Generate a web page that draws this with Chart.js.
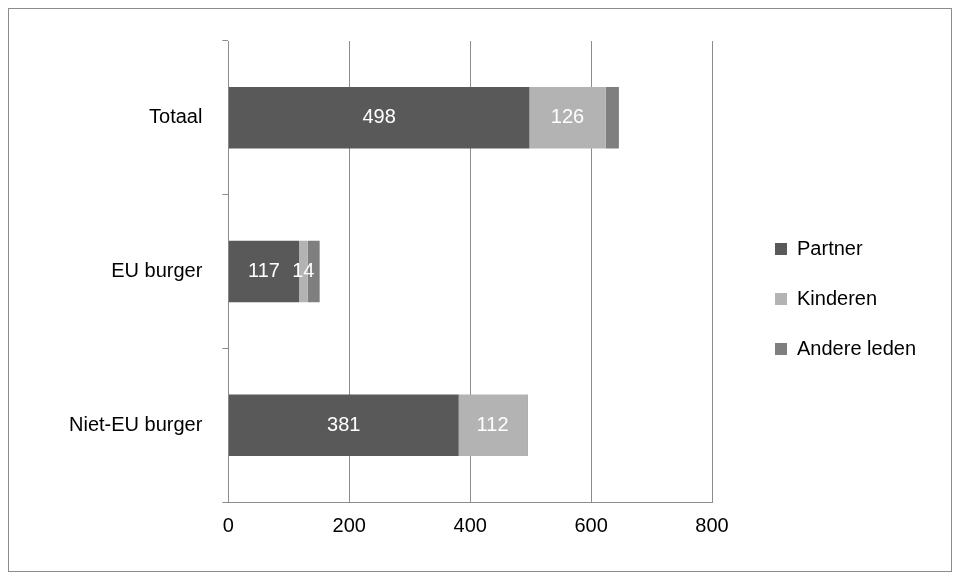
<!DOCTYPE html>
<html lang="nl">
<head>
<meta charset="UTF-8">
<title>Gezinshereniging</title>
<script src="https://cdn.jsdelivr.net/npm/chart.js"></script>
<style>
  body { margin: 0; background: #fff; }
  .frame { position: absolute; left: 8px; top: 8px; width: 942px; height: 562px; border: 1px solid #8c8c8c; }
  #chart { position: absolute; left: 0; top: 0; }
</style>
</head>
<body>
<div class="frame"><canvas id="chart" width="942" height="562"></canvas></div>
<script>
const categories = ['Totaal', 'EU burger', 'Niet-EU burger'];
const partner = [498, 117, 381];
const kinderen = [126, 14, 112];
const andere = [22, 20, 2];
const xTicks = [0, 200, 400, 600, 800];

// draw value labels inside the Partner and Kinderen segments
const valueLabels = {
  id: 'valueLabels',
  afterDatasetsDraw(chart) {
    const ctx = chart.ctx;
    ctx.save();
    ctx.fillStyle = '#ffffff';
    ctx.font = '20px "Liberation Sans", Arial, sans-serif';
    ctx.textAlign = 'center';
    ctx.textBaseline = 'middle';
    [0, 1].forEach(function(di) {
      chart.getDatasetMeta(di).data.forEach(function(bar, i) {
        const v = chart.data.datasets[di].data[i];
        ctx.fillText(v, (bar.x + bar.base) / 2, bar.y);
      });
    });
    ctx.restore();
  }
};

// make the legend column wider and push the items to the right
const legendGap = {
  id: 'legendGap',
  beforeLayout(chart) {
    const lg = chart.legend;
    if (lg && !lg._wide) {
      const fit = lg.fit;
      lg.fit = function() { fit.call(this); this.width += 38; };
      lg._wide = true;
    }
  },
  afterLayout(chart) {
    const lg = chart.legend;
    lg.left += 33; lg.right += 33;
    lg.top += 5; lg.bottom += 5;
  }
};

new Chart(document.getElementById('chart'), {
  type: 'bar',
  data: {
    labels: categories,
    datasets: [
      { label: 'Partner', data: partner, backgroundColor: '#595959' },
      { label: 'Kinderen', data: kinderen, backgroundColor: '#b3b3b3' },
      { label: 'Andere leden', data: andere, backgroundColor: '#7f7f7f' }
    ]
  },
  options: {
    indexAxis: 'y',
    responsive: false,
    animation: false,
    barPercentage: 0.4,
    categoryPercentage: 1,
    layout: { padding: { top: 29, right: 20, bottom: 21, left: 40 } },
    scales: {
      x: {
        stacked: true, min: 0, max: 800,
        afterBuildTicks(axis) { axis.ticks = xTicks.map(v => ({ value: v })); },
        grid: { color: '#8c8c8c', drawTicks: false },
        border: { color: '#8c8c8c' },
        ticks: { color: '#000', padding: 12, font: { size: 20, family: '"Liberation Sans", Arial' } }
      },
      y: {
        stacked: true,
        grid: { offset: true, drawOnChartArea: false, color: '#8c8c8c', tickLength: 6 },
        border: { color: '#8c8c8c' },
        ticks: { color: '#000', padding: 20, font: { size: 20, family: '"Liberation Sans", Arial' } }
      }
    },
    plugins: {
      legend: {
        position: 'right',
        labels: { boxWidth: 12, boxHeight: 12, padding: 30, color: '#000',
          font: { size: 20, family: '"Liberation Sans", Arial' } }
      },
      tooltip: { enabled: false }
    }
  },
  plugins: [valueLabels, legendGap]
});
</script>
</body>
</html>
